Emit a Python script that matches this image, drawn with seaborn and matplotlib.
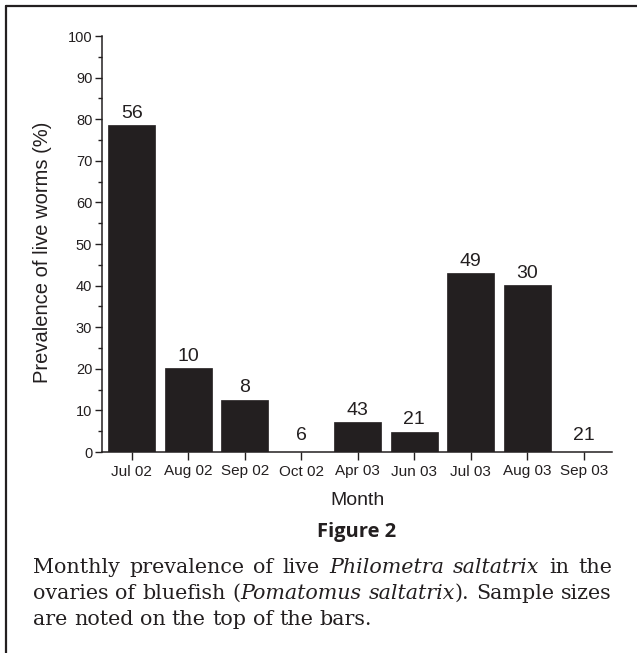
import matplotlib
matplotlib.use("Agg")
import matplotlib.pyplot as plt
import seaborn as sns
import pandas as pd
from matplotlib.lines import Line2D
from matplotlib.ticker import MultipleLocator

# ============================================================
# 数据
# ============================================================

months = ["Jul 02", "Aug 02", "Sep 02", "Oct 02", "Apr 03",
          "Jun 03", "Jul 03", "Aug 03", "Sep 03"]
prevalence = [78.6, 20.1, 12.6, 0.0, 7.1, 4.9, 43.0, 40.1, 0.0]
sample_sizes = [56, 10, 8, 6, 43, 21, 49, 30, 21]

caption_lines = [
    [("Monthly", "normal"), ("prevalence", "normal"), ("of", "normal"),
     ("live", "normal"), ("Philometra", "italic"), ("saltatrix", "italic"),
     ("in", "normal"), ("the", "normal")],
    [("ovaries", "normal"), ("of", "normal"), ("bluefish", "normal"),
     ("(", "normal"), ("Pomatomus", "italic"), ("saltatrix", "italic"),
     (").", "normal"), ("Sample", "normal"), ("sizes", "normal")],
    [("are", "normal"), ("noted", "normal"), ("on", "normal"), ("the", "normal"),
     ("top", "normal"), ("of", "normal"), ("the", "normal"), ("bars.", "normal")],
]

BAR_COLOR = "#231f20"
INK = "#231f20"
SERIF = ["DejaVu Serif"]

sns.set_style("ticks")
plt.rcParams["font.family"] = ["Liberation Sans", "DejaVu Sans"]

W, H = 637, 653
df = pd.DataFrame({"month": months, "prevalence": prevalence})

fig = plt.figure(figsize=(W / 100, H / 100), dpi=100)
ax = fig.add_axes([102 / W, 1 - 452 / H, 510 / W, 416 / H])

sns.barplot(data=df, x="month", y="prevalence", color=BAR_COLOR,
            saturation=1, width=0.83, edgecolor=BAR_COLOR, linewidth=0.5, ax=ax)

# 样本量标注
for i, (v, n) in enumerate(zip(prevalence, sample_sizes)):
    off = 6 if v == 0 else 2.5
    ax.annotate(str(n), (i, v), xytext=(0, off), textcoords="offset points",
                ha="center", va="bottom", fontsize=14, color=INK)

ax.set_xlim(-0.53, 8.5)
ax.set_ylim(0, 100)
ax.yaxis.set_major_locator(MultipleLocator(10))
ax.yaxis.set_minor_locator(MultipleLocator(5))
ax.tick_params(axis="y", which="major", length=5, width=1, labelsize=10.5, colors=INK, pad=2)
ax.tick_params(axis="y", which="minor", length=3, width=1, colors=INK)
ax.tick_params(axis="x", which="major", length=6, width=1, labelsize=11, colors=INK, pad=3)
for s in ["top", "right"]:
    ax.spines[s].set_visible(False)
for s in ["left", "bottom"]:
    ax.spines[s].set_linewidth(1.1)
    ax.spines[s].set_color(INK)

ax.set_xlabel("Month", fontsize=14, color=INK, labelpad=10)
ax.set_ylabel("Prevalence of live worms (%)", fontsize=14.5, color=INK, labelpad=11)
ax.yaxis.label.set_y(0.48)

fig.text(357 / W, 1 - 532 / H, "Figure 2", ha="center", va="center",
         fontsize=14.5, fontweight="bold", family=["Open Sans", "DejaVu Sans"], color=INK)

# ============================================================
# 图注：两端对齐
# ============================================================

renderer = fig.canvas.get_renderer()


def text_width(s, size, style="normal"):
    t = fig.text(0, 0, s, fontsize=size, style=style, family=SERIF)
    w = t.get_window_extent(renderer).width
    t.remove()
    return w


def gap_flags(words):
    flags = []
    for k in range(len(words) - 1):
        a, b = words[k][0], words[k + 1][0]
        flags.append(0 if a == "(" or b.startswith(")") else 1)
    return flags


x_left, x_right = 33, 612
avail = x_right - x_left

# 根据前两行自然宽度确定字号
base = 10
nat = []
for words in caption_lines[:2]:
    sp = text_width("a a", base) - 2 * text_width("a", base)
    nat.append(sum(text_width(w, base, st) for w, st in words) + sp * sum(gap_flags(words)))
cap_size = base * avail / max(nat)

sp_nat = text_width("a a", cap_size) - 2 * text_width("a", cap_size)
line_base = [573, 599, 625]
for li, words in enumerate(caption_lines):
    widths = [text_width(w, cap_size, st) for w, st in words]
    flags = gap_flags(words)
    if li < len(caption_lines) - 1:
        sp = (avail - sum(widths)) / sum(flags)
    else:
        sp = sp_nat
    x = x_left
    for k, (w, st) in enumerate(words):
        fig.text(x / W, 1 - line_base[li] / H, w, fontsize=cap_size, style=st,
                 family=SERIF, color=INK, va="baseline")
        x += widths[k]
        if k < len(flags):
            x += sp * flags[k]

# 外框（上、左）
fig.add_artist(Line2D([6 / W, 1.0], [1 - 6 / H, 1 - 6 / H], color=INK, lw=1.6,
                      transform=fig.transFigure))
fig.add_artist(Line2D([6 / W, 6 / W], [0, 1 - 6 / H], color=INK, lw=1.6,
                      transform=fig.transFigure))

fig.savefig("out.png", dpi=100)
